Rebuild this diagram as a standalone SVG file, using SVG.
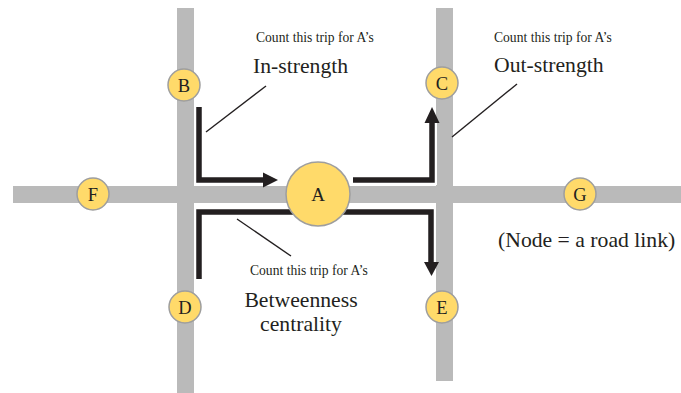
<svg xmlns="http://www.w3.org/2000/svg" width="681" height="393" viewBox="0 0 681 393">
  <style>
    .road { fill: #bababa; }
    .node circle { fill: #ffda6a; stroke: #9e9e9e; stroke-width: 1.5; }
    .node text { font-family: "Liberation Serif", "Times New Roman", serif; font-size: 18.5px; fill: #231f20; text-anchor: middle; }
    .halo { fill: none; stroke: #ffffff; stroke-width: 10; stroke-linejoin: miter; }
    .flow { fill: none; stroke: #231f20; stroke-width: 5.5; stroke-linejoin: miter; }
    .head { fill: #231f20; }
    .leader { stroke: #231f20; stroke-width: 1.4; fill: none; }
    .small { font-family: "Liberation Serif", "Times New Roman", serif; font-size: 13.6px; fill: #231f20; }
    .big { font-family: "Liberation Serif", "Times New Roman", serif; font-size: 21.7px; fill: #231f20; }
  </style>

  <g id="roads">
    <rect class="road" x="13" y="186" width="668" height="17"/>
    <rect class="road" x="177" y="8" width="17" height="385"/>
    <rect class="road" x="436" y="8" width="17" height="373"/>
  </g>

  <g id="connectors">
    <path class="halo" d="M199,107 V180 H265"/>
    <path class="halo" d="M353,180 H432 V122"/>
    <path class="halo" d="M199,279 V212 H431 V263"/>
    <path class="flow" d="M199,107 V180 H265"/>
    <path class="flow" d="M353,180 H432 V122"/>
    <path class="flow" d="M199,279 V212 H431 V263"/>
    <polygon class="head" points="263,172.5 278,180 263,187.5"/>
    <polygon class="head" points="424.5,123 432,107 439.5,123"/>
    <polygon class="head" points="424,262 431.5,276 439,262"/>
    <line class="leader" x1="206" y1="132" x2="266" y2="86"/>
    <line class="leader" x1="452" y1="137" x2="517" y2="84"/>
    <line class="leader" x1="237" y1="219" x2="291" y2="256"/>
  </g>

  <g id="node-A" class="node">
    <circle cx="318" cy="194" r="32"/>
    <text x="318" y="200.5" style="font-size:19px">A</text>
  </g>
  <g id="node-B" class="node">
    <circle cx="184" cy="85" r="16"/>
    <text x="184" y="91.5">B</text>
  </g>
  <g id="node-C" class="node">
    <circle cx="442" cy="83" r="16"/>
    <text x="442" y="89.5">C</text>
  </g>
  <g id="node-D" class="node">
    <circle cx="185" cy="307" r="16"/>
    <text x="185" y="313.5">D</text>
  </g>
  <g id="node-E" class="node">
    <circle cx="442" cy="307" r="16"/>
    <text x="442" y="313.5">E</text>
  </g>
  <g id="node-F" class="node">
    <circle cx="93" cy="194" r="16"/>
    <text x="93" y="200.5">F</text>
  </g>
  <g id="node-G" class="node">
    <circle cx="580" cy="194" r="16"/>
    <text x="580" y="200.5">G</text>
  </g>

  <g id="labels">
    <text class="small" x="256" y="42">Count this trip for A’s</text>
    <text class="big" x="253" y="73">In-strength</text>
    <text class="small" x="494" y="42">Count this trip for A’s</text>
    <text class="big" x="494" y="72">Out-strength</text>
    <text class="small" x="250" y="275">Count this trip for A’s</text>
    <text class="big" x="301" y="307" text-anchor="middle">Betweenness</text>
    <text class="big" x="301" y="331" text-anchor="middle">centrality</text>
    <text class="big" x="498" y="247">(Node = a road link)</text>
  </g>
</svg>
